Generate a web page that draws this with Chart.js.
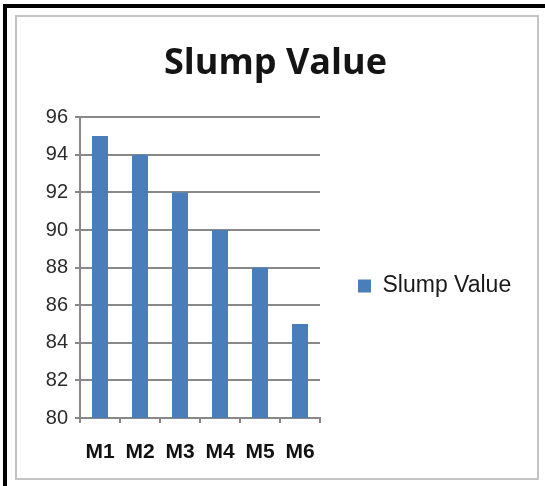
<!DOCTYPE html>
<html>
<head>
<meta charset="utf-8">
<script src="https://cdn.jsdelivr.net/npm/chart.js@4/dist/chart.umd.min.js"></script>
<style>
  html, body { margin: 0; padding: 0; background: #fff; }
  #wrap { position: relative; width: 545px; height: 486px; overflow: hidden; }
  #outer { position: absolute; left: 3px; top: 4px; width: 560px; height: 500px;
           border-top: 4px solid #000; border-left: 4px solid #000; }
  #inner { position: absolute; left: 15px; top: 15px; width: 520px; height: 461px;
           border: 2px solid #c4c4c4; }
  #slump_chart_canvas { position: absolute; left: 0; top: 0; }
</style>
</head>
<body>
<div id="wrap">
  <div id="outer"></div>
  <div id="inner"></div>
  <canvas id="slump_chart_canvas" width="545" height="486"></canvas>
</div>
<script>
    var mixes = ["M1", "M2", "M3", "M4", "M5", "M6"];
    var slump_values = [95, 94, 92, 90, 88, 85];
    var y_ticks = [80, 82, 84, 86, 88, 90, 92, 94, 96];

    // the right legend gets squeezed to a quarter of the width by the layout,
    // so widen it after its own fit, and start it below the title
    var legendWidthPlugin = {
        id: 'legendWidth',
        beforeLayout: function (chart) {
            var legend = chart.legend;
            if (legend && !legend._widthPatched) {
                var origFit = legend.fit;
                legend.fit = function () {
                    origFit.apply(this, arguments);
                    this.width = 216;
                    this.right = this.left + this.width;
                };
                legend._widthPatched = true;
            }
        },
        afterLayout: function (chart) {
            if (chart.legend) {
                chart.legend.top += 86;
            }
        }
    };

    var ctx = document.getElementById("slump_chart_canvas");
    var slumpChart = new Chart(ctx, {
        type: 'bar',
        data: {
            labels: mixes,
            datasets: [{
                label: "Slump Value",
                data: slump_values,
                backgroundColor: "#4a7ebb",
                borderWidth: 0,
                barPercentage: 0.4,
                categoryPercentage: 1.0,
            }]
        },
        plugins: [legendWidthPlugin],
        options: {
            responsive: false,
            animation: false,
            layout: {
                padding: { left: 15, right: 9, top: 20, bottom: 20 }
            },
            plugins: {
                title: {
                    display: true,
                    text: "Slump Value",
                    color: "#141414",
                    font: { family: "'Open Sans', 'Noto Sans', sans-serif", size: 36, weight: 'bold' },
                    padding: { top: 22, bottom: 32 },
                },
                legend: {
                    position: 'right',
                    labels: {
                        boxWidth: 13,
                        boxHeight: 13,
                        color: "#1a1a1a",
                        font: { family: "'Liberation Sans', Arial, sans-serif", size: 23 },
                        padding: 38,
                    }
                },
                tooltip: { enabled: false },
            },
            scales: {
                x: {
                    offset: true,
                    afterFit: function (scale) { scale.height = 48; },
                    grid: {
                        display: true,
                        drawOnChartArea: false,
                        drawTicks: true,
                        tickLength: 5,
                        color: "#888",
                        lineWidth: 2,
                    },
                    border: { display: true, color: "#888", width: 2 },
                    ticks: {
                        color: "#111",
                        padding: 17,
                        font: { family: "'Liberation Sans', Arial, sans-serif", size: 21, weight: 'bold' },
                    }
                },
                y: {
                    min: 80,
                    max: 96,
                    afterFit: function (scale) { scale.width = 65; },
                    afterBuildTicks: function (scale) {
                        scale.ticks = y_ticks.map(function (v) { return { value: v }; });
                    },
                    grid: {
                        color: "#888",
                        lineWidth: 2,
                        drawTicks: true,
                        tickLength: 5,
                    },
                    border: { display: true, color: "#888", width: 2 },
                    ticks: {
                        color: "#2b2b2b",
                        padding: 7,
                        font: { family: "'Liberation Sans', Arial, sans-serif", size: 20 },
                    }
                }
            }
        }
    });
</script>
</body>
</html>
